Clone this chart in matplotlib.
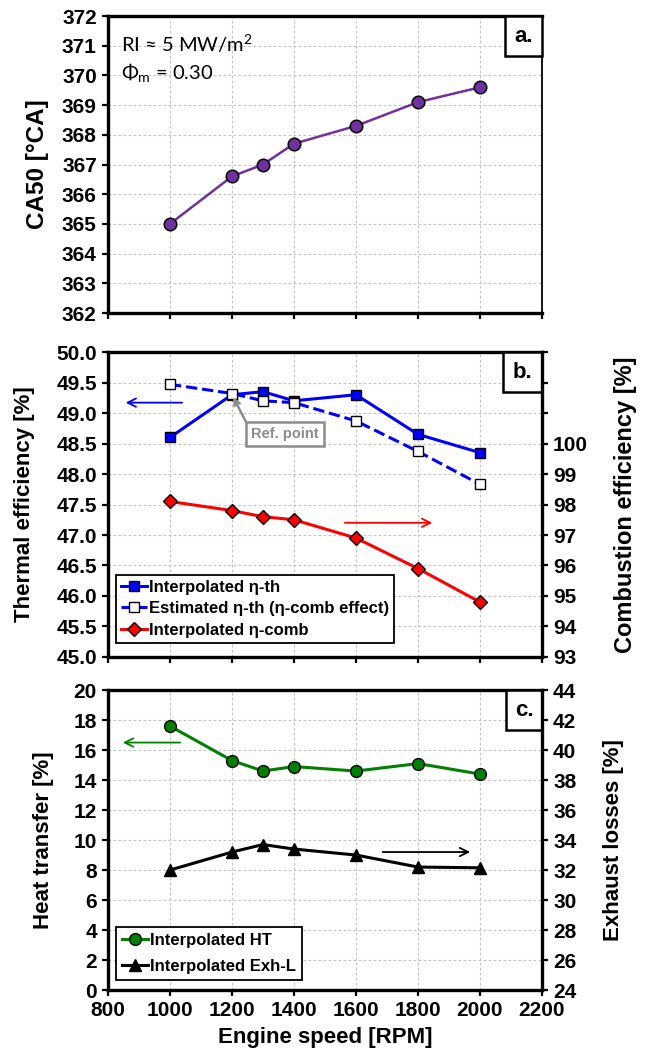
import matplotlib
import matplotlib.pyplot as plt
from matplotlib.font_manager import FontProperties
from matplotlib.patches import Rectangle
matplotlib.use('Agg')

# engine speed sweep
speed = [1000, 1200, 1300, 1400, 1600, 1800, 2000]

# panel a: combustion phasing
ca50 = [365.0, 366.6, 367.0, 367.7, 368.3, 369.1, 369.6]

# panel b: efficiencies
eta_th = [48.6, 49.3, 49.35, 49.2, 49.3, 48.65, 48.35]
eta_th_est = [49.47, 49.32, 49.2, 49.17, 48.87, 48.37, 47.83]
eta_comb = [98.1, 97.8, 97.6, 97.5, 96.9, 95.9, 94.8]

# panel c: energy losses
heat_transfer = [17.6, 15.3, 14.6, 14.9, 14.6, 15.1, 14.4]
exhaust_loss = [32.0, 33.2, 33.7, 33.4, 33.0, 32.2, 32.15]

x_ticks = [800, 1000, 1200, 1400, 1600, 1800, 2000, 2200]

BOLD = {'family': 'Liberation Sans', 'weight': 'bold'}
TICKFONT = FontProperties(family='Liberation Sans', weight='bold', size=15)

FIG_W, FIG_H = 645, 1060


def tick_font(labels):
    for lab in labels:
        lab.set_fontproperties(TICKFONT)


def style_axis(ax, ylim, ystep):
    ax.set_xlim(800, 2200)
    ax.set_ylim(*ylim)
    ax.set_xticks(x_ticks)
    n = int(round((ylim[1] - ylim[0]) / ystep))
    ax.set_yticks([ylim[0] + i * ystep for i in range(n + 1)])
    ax.grid(True, ls=(0, (2.5, 2)), color='#c4c4c4', lw=0.8)
    for s in ax.spines.values():
        s.set_linewidth(2.4)
    ax.spines['right'].set_linewidth(1.3)
    ax.tick_params(direction='out', width=1.6, length=4, pad=4)
    tick_font(ax.get_yticklabels() + ax.get_xticklabels())


def left_label(ax, label, size, x):
    ax.set_ylabel(label, fontsize=size, **BOLD)
    ax.yaxis.set_label_coords(x, 0.5)


def right_axis(ax2, label, size, x):
    ax2.tick_params(direction='out', width=1.6, length=4, pad=4)
    tick_font(ax2.get_yticklabels())
    ax2.set_ylabel(label, fontsize=size, **BOLD)
    ax2.yaxis.set_label_coords(x, 0.5)
    ax2.spines['right'].set_linewidth(2.4)


def panel_tag(ax, tag, box_w, box_h):
    # boxed panel letter sitting in the upper right corner
    pos = ax.get_position()
    w = box_w / (pos.width * FIG_W)
    h = box_h / (pos.height * FIG_H)
    ax.add_patch(Rectangle((1 - w, 1 - h), w, h, transform=ax.transAxes,
                           fc='white', ec='black', lw=1.8, zorder=6,
                           clip_on=False))
    ax.text(1 - w / 2, 1 - h / 2, tag, transform=ax.transAxes,
            ha='center', va='center', fontsize=16, zorder=7, **BOLD)


def side_arrow(ax, x0, x1, y, color):
    ax.annotate('', xy=(x1, y), xytext=(x0, y),
                arrowprops=dict(arrowstyle='->', color=color, lw=1.3,
                                mutation_scale=15))


fig = plt.figure(figsize=(6.45, 10.6), dpi=100)
L, W = 0.1674, 0.6729

# a. CA50
ax_a = fig.add_axes([L, 0.7047, W, 0.2802])
ax_a.plot(speed, ca50, '-o', color='#7030a0', lw=1.8, ms=9,
          mfc='#7030a0', mec='black', mew=1.1, zorder=3)
style_axis(ax_a, (362, 372), 1)
ax_a.tick_params(labelbottom=False)
left_label(ax_a, 'CA50 [°CA]', 17.5, -0.135)
ax_a.text(0.03, 0.945, 'RI ≈ 5 MW/m$^\\mathregular{2}$', transform=ax_a.transAxes,
          family='Lato', fontsize=14.5, va='top')
ax_a.text(0.03, 0.845, 'Φ$_\\mathregular{m}$ = 0.30', transform=ax_a.transAxes,
          family='Lato', fontsize=14.5, va='top')
panel_tag(ax_a, 'a.', 37, 40)

# b. efficiencies
ax_b = fig.add_axes([L, 0.3802, W, 0.2877])
h1, = ax_b.plot(speed, eta_th, '-s', color='#0000ff', lw=2.2, ms=7.5,
                mfc='#0000ff', mec='black', mew=1, zorder=3,
                label='Interpolated η-th')
h2, = ax_b.plot(speed, eta_th_est, '--s', color='#0000ff', lw=2.2, ms=7.5,
                mfc='white', mec='black', mew=1, zorder=3,
                label='Estimated η-th (η-comb effect)')
style_axis(ax_b, (45, 50), 0.5)
ax_b.set_yticks([45 + 0.5 * i for i in range(11)],
                ['%.1f' % (45 + 0.5 * i) for i in range(11)])
tick_font(ax_b.get_yticklabels())
ax_b.tick_params(labelbottom=False)
left_label(ax_b, 'Thermal efficiency [%]', 16, -0.168)

ax_b2 = ax_b.twinx()
h3, = ax_b2.plot(speed, eta_comb, '-D', color='#ff0000', lw=2.2, ms=7,
                 mfc='#ff0000', mec='black', mew=1, zorder=3,
                 label='Interpolated η-comb')
ax_b2.set_ylim(93, 103)
ax_b2.set_yticks(range(93, 104),
                 [str(v) if v <= 100 else '' for v in range(93, 104)])
right_axis(ax_b2, 'Combustion efficiency [%]', 17, 1.165)

side_arrow(ax_b, 1048, 848, 49.17, '#0000ff')
side_arrow(ax_b, 1555, 1855, 47.2, '#ff0000')
ax_b.annotate('Ref. point', xy=(1200, 49.3), xytext=(1370, 48.65),
              ha='center', va='center', fontsize=10.5, color='#8c8c8c',
              **BOLD,
              bbox=dict(boxstyle='square,pad=0.35', fc='white', ec='#8c8c8c', lw=1.8),
              arrowprops=dict(arrowstyle='->', color='#8c8c8c', lw=1.8,
                              shrinkA=0, shrinkB=2,
                              relpos=(0.0, 0.7)))
leg = ax_b.legend(handles=[h1, h2, h3], loc='lower left',
                  bbox_to_anchor=(0.018, 0.046), prop=dict(BOLD, size=12),
                  handlelength=1.6, handletextpad=0.1, borderpad=0.3,
                  labelspacing=0.4, borderaxespad=0, fancybox=False,
                  framealpha=1, edgecolor='black')
leg.get_frame().set_linewidth(1.3)
leg.set_zorder(5)
panel_tag(ax_b, 'b.', 39, 40)

# c. losses
ax_c = fig.add_axes([L, 0.066, W, 0.283])
g1, = ax_c.plot(speed, heat_transfer, '-o', color='#008000', lw=2.2, ms=8.5,
                mfc='#008000', mec='black', mew=1, zorder=3,
                label='Interpolated HT')
style_axis(ax_c, (0, 20), 2)
left_label(ax_c, 'Heat transfer [%]', 16, -0.125)
ax_c.set_xlabel('Engine speed [RPM]', fontsize=16, labelpad=5, **BOLD)

ax_c2 = ax_c.twinx()
g2, = ax_c2.plot(speed, exhaust_loss, '-^', color='black', lw=2.2, ms=9,
                 mfc='black', mec='black', zorder=3,
                 label='Interpolated Exh-L')
ax_c2.set_ylim(24, 44)
ax_c2.set_yticks(range(24, 45, 2))
right_axis(ax_c2, 'Exhaust losses [%]', 16, 1.14)

side_arrow(ax_c, 1042, 839, 16.5, '#008000')
side_arrow(ax_c, 1677, 1977, 9.2, 'black')
leg = ax_c.legend(handles=[g1, g2], loc='lower left',
                  bbox_to_anchor=(0.018, 0.033), prop=dict(BOLD, size=12),
                  handlelength=1.6, handletextpad=0.1, borderpad=0.35,
                  labelspacing=0.7, borderaxespad=0, fancybox=False,
                  framealpha=1, edgecolor='black')
leg.get_frame().set_linewidth(1.3)
panel_tag(ax_c, 'c.', 36, 40)

plt.savefig('out.png', dpi=100)
